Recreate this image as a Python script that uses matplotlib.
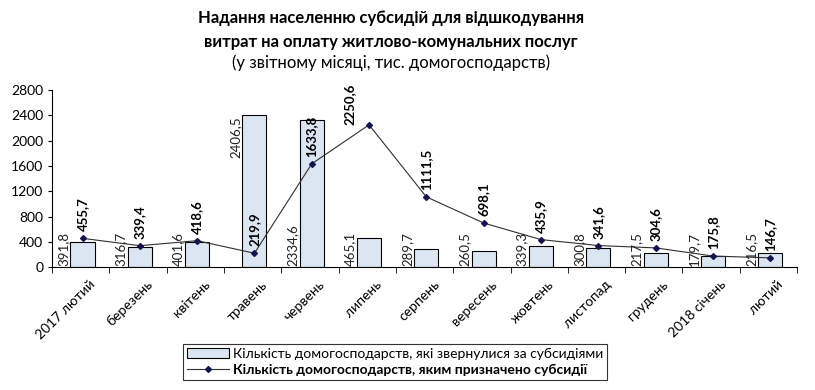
import matplotlib
matplotlib.use("Agg")
import matplotlib.pyplot as plt
import matplotlib.transforms as mtransforms
import numpy as np

# Subsidy data (thousand households)
months = ["2017 лютий", "березень", "квітень", "травень", "червень", "липень",
          "серпень", "вересень", "жовтень", "листопад", "грудень",
          "2018 січень", "лютий"]
applied = [391.8, 316.7, 401.6, 2406.5, 2334.6, 465.1, 289.7,
           260.5, 339.3, 300.8, 217.5, 179.7, 216.5]
granted = [455.7, 339.4, 418.6, 219.9, 1633.8, 2250.6, 1111.5,
           698.1, 435.9, 341.6, 304.6, 175.8, 146.7]
yticks = [0, 400, 800, 1200, 1600, 2000, 2400, 2800]

plt.rcParams['font.family'] = ['Lato', 'Noto Sans', 'DejaVu Sans']


def fmt(v):
    return ("%.1f" % v).replace(".", ",")


fig = plt.figure(figsize=(8.15, 3.9), dpi=100)
ax = fig.add_axes([0.064, 0.315, 0.914, 0.454])

x = np.arange(len(months))
bar_x = x + 0.03
bars = ax.bar(bar_x, applied, width=0.42, color="#DCE6F2", edgecolor="black",
              linewidth=0.8, label="Кількість домогосподарств, які звернулися за субсидіями")
line, = ax.plot(bar_x, granted, color="#303030", linewidth=0.8, marker="D",
                markersize=3, markerfacecolor="#14144E", markeredgecolor="#14144E",
                label="Кількість домогосподарств, яким призначено субсидії")

# value labels (the May one sits high in the original)
for i, (xi, v) in enumerate(zip(x, applied)):
    y0 = 1720 if i == 3 else 25
    ax.text(xi - 0.3, y0, fmt(v), rotation=90, ha="center", va="bottom",
            fontsize=9.5, color="#202020")
for i, (xi, v) in enumerate(zip(bar_x, granted)):
    off = (-14, 0) if i == 5 else (0, 5)
    ax.annotate(fmt(v), (xi, v), xytext=off, textcoords="offset points",
                rotation=90, ha="center", va="bottom", fontsize=9.5,
                fontweight="bold", color="black")

ax.set_xlim(-0.5, len(months) - 0.5)
ax.set_ylim(0, 2800)
ax.set_yticks(yticks)
ax.tick_params(axis="y", labelsize=10, length=3, direction="out")
ax.set_xticks(x)
ax.set_xticklabels(months, rotation=45, ha="right", rotation_mode="anchor", fontsize=10)
ax.tick_params(axis="x", which="major", length=0, pad=8)
ax.set_xticks(np.arange(-0.5, len(months), 1), minor=True)
ax.tick_params(axis="x", which="minor", length=4, direction="out")
shift = mtransforms.ScaledTranslation(6 / 72, 0, fig.dpi_scale_trans)
for lab in ax.get_xticklabels():
    lab.set_transform(lab.get_transform() + shift)

for s in ["top", "right"]:
    ax.spines[s].set_visible(False)
ax.spines["left"].set_linewidth(0.8)
ax.spines["bottom"].set_linewidth(0.8)

fig.text(0.48, 0.955, "Надання населенню субсидій для відшкодування",
         ha="center", va="center", fontsize=12, fontweight="bold")
fig.text(0.48, 0.893, "витрат на оплату житлово-комунальних послуг",
         ha="center", va="center", fontsize=12, fontweight="bold")
fig.text(0.48, 0.838, "(у звітному місяці, тис. домогосподарств)",
         ha="center", va="center", fontsize=12)

leg = fig.legend(handles=[bars, line], loc="center", bbox_to_anchor=(0.485, 0.072),
                 frameon=True, fancybox=False, edgecolor="black", fontsize=10,
                 handlelength=3, borderpad=0.3, labelspacing=0.3, handletextpad=0.3)
leg.get_frame().set_linewidth(0.8)
leg.get_texts()[1].set_fontweight("bold")

fig.savefig("out.png", dpi=100)
